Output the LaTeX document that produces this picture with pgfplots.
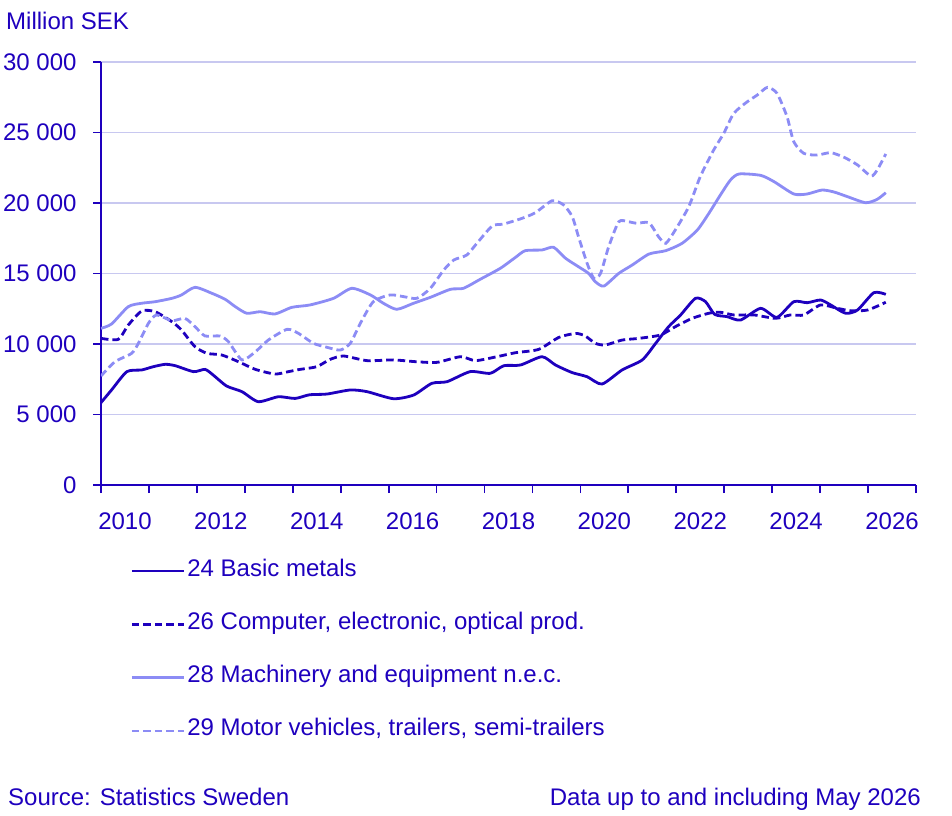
\documentclass[border=0pt]{standalone}
\usepackage{pgfplots}
\pgfplotsset{compat=1.18}
\usepackage{fontspec}
\setmainfont{Liberation Sans}
\definecolor{scbdark}{RGB}{30,0,190}
\definecolor{scblight}{RGB}{140,140,245}
\definecolor{scbgrid}{RGB}{200,200,240}
\newcommand{\chartfont}{\fontsize{24}{28}\selectfont}

\begin{document}
\begin{tikzpicture}[x=1pt,y=1pt]
\path[use as bounding box] (0,0) rectangle (952,815);
\begin{axis}[
    at={(101pt,330pt)}, anchor=south west,
    scale only axis, width=815pt, height=423pt,
    xmin=2010, xmax=2027, ymin=0, ymax=30000,
    scaled y ticks=false,
    axis lines*=left,
    axis line style={scbdark, line width=1.8pt},
    tick align=outside,
    major tick length=8pt,
    every tick/.style={scbdark, line width=1.8pt},
    xtick={2010,2011,...,2027},
    xticklabels={},
    extra x ticks={2010.5,2012.5,...,2026.5},
    extra x tick labels={2010,2012,2014,2016,2018,2020,2022,2024,2026},
    extra x tick style={major tick length=0pt, grid=none,
        xticklabel style={yshift=-24pt}},
    ytick={0,5000,...,30000},
    yticklabels={0,5~000,10~000,15~000,20~000,25~000,30~000},
    ymajorgrids,
    major grid style={scbgrid, line width=1.2pt},
    tick label style={font=\chartfont, text=scbdark},
    yticklabel style={xshift=-13pt},
    legend style={at={(0.036,-0.177)}, anchor=north west, draw=none, fill=none,
        inner sep=0pt, font=\chartfont, text=scbdark, row sep=31.3pt,
        nodes={inner sep=2pt, text height=14pt, text depth=4pt}},
    legend cell align=left,
    legend image code/.code={\draw[#1] (0pt,0pt) -- (52pt,0pt);},
    every axis plot/.append style={line width=2.8pt, smooth, tension=0.4},
]
% 24 Basic metals
\addplot[scbdark] coordinates {
(2010.00,5840) (2010.22,6740) (2010.54,8040) (2010.85,8160) (2011.09,8390)
(2011.34,8560) (2011.55,8460) (2011.93,8040) (2012.17,8200) (2012.34,7800)
(2012.62,7020) (2012.94,6620) (2013.28,5910) (2013.70,6260) (2014.05,6140)
(2014.35,6400) (2014.71,6450) (2015.20,6740) (2015.55,6620) (2016.10,6120)
(2016.52,6380) (2016.90,7210) (2017.22,7330) (2017.70,8040) (2018.12,7920)
(2018.40,8460) (2018.75,8510) (2019.20,9100) (2019.48,8510) (2019.83,7970)
(2020.14,7680) (2020.45,7160) (2020.87,8160) (2021.29,8870) (2021.57,10050)
(2021.84,11230) (2022.09,12060) (2022.40,13240) (2022.61,13000) (2022.80,12100)
(2023.06,11940) (2023.34,11700) (2023.76,12530) (2024.10,11890) (2024.45,13000)
(2024.73,12930) (2025.01,13120) (2025.22,12770) (2025.53,12180) (2025.78,12410)
(2026.12,13640) (2026.37,13520)
};
\addlegendentry{24 Basic metals}
% 26 Computer, electronic, optical prod.
\addplot[scbdark, dash pattern=on 7.5pt off 4pt] coordinates {
(2010.00,10400) (2010.36,10330) (2010.57,11350) (2010.85,12340) (2011.13,12290)
(2011.48,11580) (2011.68,10990) (2011.96,9810) (2012.21,9340) (2012.52,9220)
(2012.87,8740) (2013.22,8200) (2013.63,7870) (2013.91,8040) (2014.15,8200)
(2014.50,8390) (2014.78,8910) (2015.06,9150) (2015.55,8820) (2016.10,8870)
(2016.59,8740) (2017.01,8700) (2017.50,9100) (2017.81,8820) (2018.26,9100)
(2018.64,9380) (2019.13,9620) (2019.55,10470) (2019.90,10750) (2020.10,10570)
(2020.31,10050) (2020.52,9930) (2020.87,10280) (2021.22,10400) (2021.67,10640)
(2021.98,11230) (2022.33,11820) (2022.68,12180) (2022.92,12250) (2023.20,12060)
(2023.62,12060) (2024.07,11820) (2024.38,12060) (2024.66,12060) (2025.01,12770)
(2025.36,12530) (2025.64,12360) (2025.99,12410) (2026.37,12960)
};
\addlegendentry{26 Computer, electronic, optical prod.}
% 28 Machinery and equipment n.e.c.
\addplot[scblight] coordinates {
(2010.00,11110) (2010.22,11420) (2010.57,12650) (2010.85,12890) (2011.13,13000)
(2011.48,13240) (2011.68,13480) (2011.96,14020) (2012.31,13600) (2012.59,13170)
(2012.80,12650) (2013.04,12180) (2013.32,12290) (2013.63,12130) (2013.98,12600)
(2014.36,12770) (2014.85,13240) (2015.23,13950) (2015.62,13480) (2015.89,12890)
(2016.17,12460) (2016.52,12890) (2016.87,13310) (2017.29,13880) (2017.56,13950)
(2017.91,14590) (2018.33,15370) (2018.64,16130) (2018.85,16620) (2019.20,16670)
(2019.44,16860) (2019.69,16080) (2019.96,15480) (2020.17,15010) (2020.31,14420)
(2020.49,14110) (2020.80,15010) (2021.08,15600) (2021.43,16380) (2021.78,16620)
(2022.12,17140) (2022.44,18090) (2022.68,19270) (2022.92,20570) (2023.13,21630)
(2023.31,22060) (2023.76,21960) (2024.04,21510) (2024.45,20640) (2024.73,20640)
(2025.04,20920) (2025.29,20780) (2025.57,20450) (2025.95,20020) (2026.19,20260)
(2026.37,20730)
};
\addlegendentry{28 Machinery and equipment n.e.c.}
% 29 Motor vehicles, trailers, semi-trailers
\addplot[scblight, dash pattern=on 7.5pt off 4pt] coordinates {
(2010.00,7730) (2010.29,8740) (2010.64,9340) (2010.78,10050) (2010.99,11470)
(2011.16,12060) (2011.48,11650) (2011.75,11820) (2011.96,11230) (2012.17,10570)
(2012.48,10570) (2012.66,10160) (2012.94,8870) (2013.22,9450) (2013.49,10280)
(2013.88,11040) (2014.12,10750) (2014.43,10050) (2014.71,9770) (2014.99,9570)
(2015.20,10050) (2015.41,11470) (2015.68,13000) (2016.03,13480) (2016.31,13360)
(2016.59,13240) (2016.87,13950) (2017.15,15250) (2017.36,15960) (2017.63,16310)
(2017.84,17140) (2018.16,18370) (2018.40,18510) (2018.78,18910) (2019.06,19310)
(2019.41,20160) (2019.65,19860) (2019.83,19030) (2019.96,17610) (2020.14,15720)
(2020.28,14660) (2020.42,15010) (2020.59,16900) (2020.80,18670) (2021.00,18670)
(2021.18,18560) (2021.43,18600) (2021.63,17610) (2021.78,17140) (2021.98,18090)
(2022.26,19740) (2022.50,21870) (2022.78,23760) (2022.99,24940) (2023.20,26360)
(2023.48,27180) (2023.69,27660) (2023.90,28200) (2024.10,27780) (2024.31,26120)
(2024.45,24350) (2024.66,23520) (2024.94,23400) (2025.22,23570) (2025.50,23240)
(2025.78,22700) (2026.06,21910) (2026.19,22340) (2026.37,23480)
};
\addlegendentry{29 Motor vehicles, trailers, semi-trailers}
\end{axis}
\node[anchor=base west, inner sep=0pt, font=\chartfont, text=scbdark] at (6,785.7) {Million SEK};
\node[anchor=base west, inner sep=0pt, font=\chartfont, text=scbdark] at (8,9.5) {Source: Statistics Sweden};
\node[anchor=base east, inner sep=0pt, font=\chartfont, text=scbdark] at (921,9.5) {Data up to and including May 2026};
\end{tikzpicture}
\end{document}
